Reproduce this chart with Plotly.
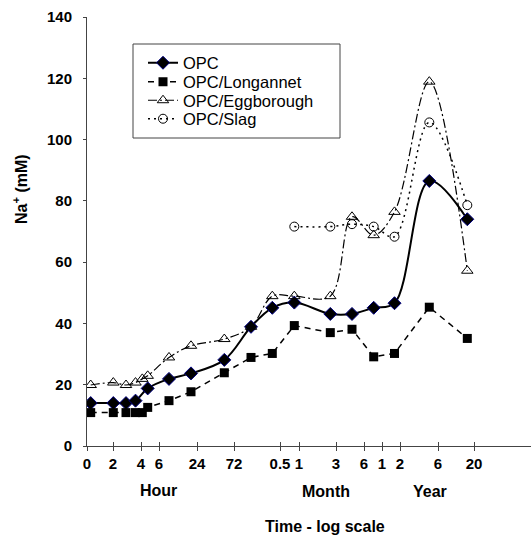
import plotly.graph_objects as go

# x positions along the (hand-spaced) log-time axis
x_pos = [3.7, 26.3, 39, 48.5, 55.3, 60.7, 82, 104, 137.3, 164, 185.3, 207.3,
         243.3, 265, 286.7, 307.5, 342.3, 380.3]

opc = [14, 14, 14, 14.8, None, 18.8, 21.9, 23.7, 28.1, 38.9, 45.1, 46.8,
       43.1, 43.1, 45.1, 46.6, 86.5, 74]
longannet = [10.9, 10.9, 10.9, 10.9, 10.9, 12.6, 14.8, 17.7, 23.9, 28.9, 30.2,
             39.3, 37, 38.1, 29.1, 30.2, 45.3, 35.1]
eggborough = [19.9, 20.7, 19.9, 20.7, 21.9, 22.9, 28.9, 32.7, 34.9, 38.9, 48.9,
              48.9, 48.9, 74.8, 68.8, 76.4, 118.9, 57.2]
slag = [None] * 11 + [71.6, 71.6, 72.4, 71.6, 68.3, 105.6, 78.6]

tick_pos = [0, 26, 54, 72, 110, 147, 193, 212, 249, 277, 295, 313, 351, 387]
tick_labels = ["0", "2", "4", "6", "24", "72", "0.5", "1", "3", "6", "1", "2", "6", "20"]

FONT = "Arial, Liberation Sans, sans-serif"

fig = go.Figure()
fig.add_trace(go.Scatter(
    x=x_pos, y=opc, name="OPC", mode="lines+markers", connectgaps=True,
    legend="legend",
    line=dict(color="black", width=2, shape="spline", smoothing=1),
    marker=dict(symbol="diamond", size=10, color="black",
                line=dict(color="#000080", width=1))))
fig.add_trace(go.Scatter(
    x=x_pos, y=longannet, name="OPC/Longannet", mode="lines+markers",
    legend="legend2",
    line=dict(color="black", width=1.5, dash="6px,5px"),
    marker=dict(symbol="square", size=9, color="black")))
fig.add_trace(go.Scatter(
    x=x_pos, y=eggborough, name="OPC/Eggborough", mode="lines+markers",
    legend="legend3",
    line=dict(color="black", width=1.2, dash="9px,3px,2px,3px", shape="spline", smoothing=1),
    marker=dict(symbol="triangle-up-open", size=10, color="black",
                line=dict(width=1))))
fig.add_trace(go.Scatter(
    x=x_pos, y=slag, name="OPC/Slag", mode="lines+markers",
    legend="legend4",
    line=dict(color="black", width=1.5, dash="2px,4px", shape="spline", smoothing=1),
    marker=dict(symbol="circle-open", size=9, color="black",
                line=dict(width=1))))
# invisible trace for crossing tick marks
fig.add_trace(go.Scatter(x=[0], y=[0], xaxis="x2", mode="markers",
                         marker=dict(opacity=0), showlegend=False, hoverinfo="skip"))

L, T, B, W, H = 87, 17, 91, 531, 537
pw, ph = W - L, H - T - B

def px(xp):
    return (xp - L) / pw

def py(yp):
    return (H - B - yp) / ph

def label(text, x, y, size=16, angle=0):
    return dict(text=text, x=px(x), y=py(y), xref="paper", yref="paper",
                xanchor="center", yanchor="middle", textangle=angle,
                showarrow=False, font=dict(size=size, weight="bold"))

def leg(yc):
    return dict(x=px(143), y=py(yc), xanchor="left", yanchor="middle",
                bgcolor="rgba(0,0,0,0)", borderwidth=0,
                font=dict(size=16.5), itemwidth=30)

fig.update_layout(
    width=W, height=H,
    margin=dict(l=L, r=0, t=T, b=B),
    paper_bgcolor="white", plot_bgcolor="white",
    font=dict(family=FONT, color="black"),
    xaxis=dict(range=[0, pw], tickvals=tick_pos, ticktext=tick_labels,
               showgrid=False, zeroline=False, showline=True,
               linecolor="#444", linewidth=1, ticks="outside", ticklen=4,
               tickcolor="#444", tickfont=dict(size=15, weight="bold")),
    xaxis2=dict(range=[0, pw], tickvals=tick_pos, overlaying="x",
                showticklabels=False, showgrid=False, zeroline=False,
                ticks="inside", ticklen=4, tickcolor="#444", showline=False),
    yaxis=dict(range=[0, 140], dtick=20, showgrid=False, zeroline=False,
               showline=True, linecolor="#444", linewidth=1, ticks="outside",
               ticklen=3, tickcolor="#444", ticklabelstandoff=8,
               tickfont=dict(size=15, weight="bold")),
    showlegend=True,
    legend=leg(63), legend2=leg(82), legend3=leg(100.5), legend4=leg(119),
    shapes=[dict(type="rect", xref="paper", yref="paper",
                 x0=px(133), x1=px(340), y0=py(44), y1=py(138),
                 line=dict(color="#444", width=1), fillcolor="rgba(0,0,0,0)")],
    annotations=[
        label("Na<sup>+</sup> (mM)", 20, 189, angle=-90),
        label("Hour", 158, 490),
        label("Month", 326, 491),
        label("Year", 430, 491),
        label("Time - log scale", 325, 526),
    ],
)

fig.write_html("out.html")
